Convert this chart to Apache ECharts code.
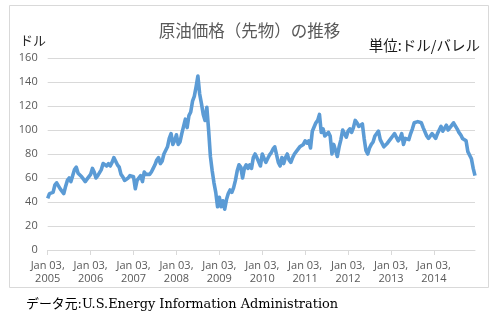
<!DOCTYPE html>
<html><head><meta charset="utf-8">
<script src="https://cdn.jsdelivr.net/npm/echarts@6/dist/echarts.min.js"></script>
<style>html,body{margin:0;padding:0;background:#fff}#c{width:499px;height:331px}</style>
</head><body><div id="c"></div>
<script>
// Semi-monthly WTI futures prices (USD/bbl)
const years = [2005, 2006, 2007, 2008, 2009, 2010, 2011, 2012, 2013, 2014];
const tickLabels = ['Jan 03,\n2005','Jan 03,\n2006','Jan 03,\n2007','Jan 03,\n2008','Jan 03,\n2009','Jan 03,\n2010','Jan 03,\n2011','Jan 03,\n2012','Jan 03,\n2013','Jan 03,\n2014'];
const p2005 = [43, 47, 46, 48, 54, 56, 57, 51, 50, 47, 53, 58, 60, 57, 62, 67, 69, 64, 63, 61, 59, 57, 59, 60];
const p2006 = [63, 68, 65, 60, 62, 63, 67, 72, 73, 70, 72, 70, 73, 77, 76, 71, 69, 63, 61, 58, 58, 60, 62, 62];
const p2007 = [61, 51, 58, 58, 62, 57, 65, 63, 63, 63, 65, 68, 71, 75, 77, 72, 74, 80, 80, 86, 93, 97, 88, 91];
const p2008 = [96, 88, 90, 97, 103, 109, 102, 112, 115, 124, 128, 136, 145, 130, 122, 113, 108, 119, 100, 78, 66, 56, 48, 36];
const p2009 = [44, 36, 41, 34, 42, 47, 50, 48, 52, 58, 66, 71, 69, 60, 68, 71, 68, 71, 68, 77, 80, 77, 77, 70];
const p2010 = [80, 79, 73, 76, 79, 81, 84, 86, 85, 73, 70, 77, 72, 77, 80, 75, 73, 77, 80, 82, 82, 86, 85, 88];
const p2011 = [91, 89, 91, 85, 99, 99, 106, 108, 113, 98, 101, 95, 95, 98, 95, 80, 88, 87, 78, 86, 92, 100, 100, 94];
const p2012 = [99, 101, 98, 102, 108, 106, 103, 103, 105, 93, 83, 80, 85, 88, 90, 95, 96, 99, 92, 91, 86, 86, 89, 88];
const p2013 = [93, 95, 97, 96, 91, 93, 97, 88, 93, 94, 92, 97, 101, 106, 106, 107, 108, 106, 102, 101, 95, 93, 95, 97];
const p2014 = [98, 93, 97, 100, 103, 99, 100, 104, 100, 102, 103, 106, 105, 101, 98, 96, 93, 94, 91, 82, 79, 76, 68, 62];
const yTicks = [0, 20, 40, 60, 80, 100, 120, 140, 160];

const priceSets = [p2005, p2006, p2007, p2008, p2009, p2010, p2011, p2012, p2013, p2014];
const data = [];
years.forEach((y, k) => priceSets[k].forEach((v, i) => data.push([y + i / 24, v])));

const chart = echarts.init(document.getElementById('c'), null, {renderer: 'canvas'});
const labelFont = '"Open Sans", "Noto Sans", sans-serif';
chart.setOption({
  backgroundColor: '#ffffff',
  animation: false,
  grid: {left: 47.7, right: 24, top: 58, bottom: 81, containLabel: false},
  xAxis: {
    type: 'value',
    min: years[0],
    max: years[years.length - 1] + 23 / 24,
    interval: 1,
    axisLine: {show: true, lineStyle: {color: '#d9d9d9', width: 1}},
    axisTick: {show: true, length: 5, lineStyle: {color: '#d9d9d9'}, customValues: years},
    splitLine: {show: false},
    axisLabel: {
      customValues: years,
      color: '#595959', fontSize: 11, lineHeight: 13, margin: 9,
      fontFamily: labelFont,
      formatter: v => tickLabels[years.indexOf(Math.round(v))] || ''
    }
  },
  yAxis: {
    type: 'value', min: yTicks[0], max: yTicks[yTicks.length - 1], interval: 20,
    axisLine: {show: false}, axisTick: {show: false},
    splitLine: {lineStyle: {color: '#d9d9d9', width: 1}},
    axisLabel: {color: '#595959', fontSize: 11, margin: 10, fontFamily: labelFont}
  },
  series: [{
    type: 'line', data: data, showSymbol: false, smooth: false,
    lineStyle: {color: '#5b9bd5', width: 3.6, join: 'round'},
    itemStyle: {color: '#5b9bd5'}
  }],
  graphic: [
    {type: 'rect', silent: true, shape: {x: 9.5, y: 5.5, width: 479, height: 282},
     style: {fill: null, stroke: '#d9d9d9', lineWidth: 1}},
    {type: 'text', left: 'center', top: 22,
     style: {text: '原油価格（先物）の推移', fill: '#595959', fontSize: 16.5,
             fontFamily: '"Noto Sans CJK JP", sans-serif'}},
    {type: 'text', left: 20, top: 34,
     style: {text: 'ドル', fill: '#262626', fontSize: 13, fontFamily: '"Noto Sans CJK JP", sans-serif'}},
    {type: 'text', right: 19, top: 38,
     style: {text: '単位:ドル/バレル', fill: '#1a1a1a', fontSize: 14.5, fontFamily: '"Noto Sans CJK JP", sans-serif'}},
    {type: 'text', left: 26, top: 298,
     style: {text: 'データ元:U.S.Energy Information Administration', fill: '#000000', fontSize: 12.9,
             fontFamily: '"DejaVu Serif", "Noto Sans CJK JP", serif'}}
  ]
});
</script>
</body></html>
